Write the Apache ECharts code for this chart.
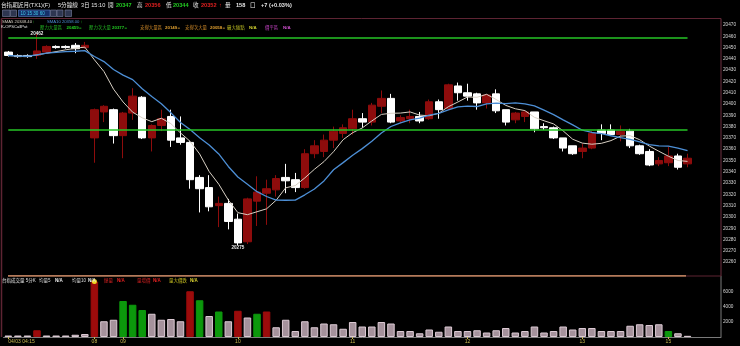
<!DOCTYPE html>
<html><head><meta charset="utf-8">
<script src="https://cdn.jsdelivr.net/npm/echarts@6/dist/echarts.min.js"></script>
<style>html,body{margin:0;padding:0;background:#000;}#c{width:740px;height:346px;}</style>
</head><body><div id="c"></div>
<script>
// ---- data ----
const categories = ['04:15','04:20','04:25','04:30','04:35','04:40','04:45','04:50','04:55',
'08:45','08:50','08:55',
'09:00','09:05','09:10','09:15','09:20','09:25','09:30','09:35','09:40','09:45','09:50','09:55',
'10:00','10:05','10:10','10:15','10:20','10:25','10:30','10:35','10:40','10:45','10:50','10:55',
'11:00','11:05','11:10','11:15','11:20','11:25','11:30','11:35','11:40','11:45','11:50','11:55',
'12:00','12:05','12:10','12:15','12:20','12:25','12:30','12:35','12:40','12:45','12:50','12:55',
'13:00','13:05','13:10','13:15','13:20','13:25','13:30','13:35','13:40',
'15:00','15:05','15:10','15:15','15:20','15:25'];

const opens = [20446,20443,20443,20443,20446,20451,20451,20452,20450,
20370,20393,20395,20372,20392,20406,20370,20381,20389,20370,20366,20335,20326,20310,20312,20298,
20278,20314,20321,20324,20335,20333,20326,20356,20358,20368,20374,20378,20387,20384,20398,20405,
20385,20387,20389,20387,20402,20396,20416,20410,20409,20401,20409,20395,20386,20389,20393,20380,
20379,20370,20363,20358,20361,20377,20377,20373,20376,20363,20358,20347,20348,20354,20347];

const closes = [20443,20442,20442,20447,20451,20450,20450,20449,20452,
20395,20398,20372,20392,20407,20370,20381,20387,20368,20366,20333,20325,20309,20312,20296,20277,
20316,20322,20325,20334,20332,20326,20356,20363,20368,20376,20379,20387,20384,20399,20405,20384,
20388,20389,20385,20402,20395,20417,20410,20407,20401,20408,20394,20384,20392,20393,20378,20379,
20370,20361,20356,20361,20374,20374,20373,20376,20363,20356,20346,20350,20354,20344,20352];

const lows = [20442,20441,20441,20440,20445,20449,20449,20445,20449,
20348,20384,20365,20352,20386,20369,20358,20376,20362,20364,20325,20304,20305,20291,20289,20275,
20276,20292,20293,20318,20321,20322,20325,20352,20353,20361,20370,20373,20379,20381,20392,20383,
20383,20383,20383,20386,20387,20395,20403,20403,20395,20396,20392,20381,20383,20384,20375,20377,
20369,20358,20355,20352,20360,20368,20372,20367,20361,20355,20345,20345,20345,20342,20344];

const highs = [20447,20444,20444,20462,20452,20452,20452,20454,20455,
20396,20399,20396,20393,20414,20407,20382,20395,20395,20389,20367,20337,20337,20318,20316,20303,
20317,20336,20333,20337,20347,20339,20360,20368,20373,20380,20382,20395,20392,20401,20412,20409,
20390,20395,20393,20404,20404,20418,20419,20418,20410,20409,20413,20395,20393,20394,20393,20383,
20380,20370,20363,20365,20376,20382,20382,20381,20378,20364,20360,20353,20362,20356,20356];

const volumes = [200,200,200,900,200,200,200,300,400,
7400,2100,2300,4800,4300,3600,3100,2300,2400,2100,6100,4900,2800,3400,2100,3500,
2600,3100,3400,1300,2300,800,2100,1300,1800,1700,1100,2000,1400,1400,2000,1800,
800,800,500,1000,700,1400,800,800,900,600,900,1200,600,800,1400,600,
800,1400,1000,1200,1200,800,800,800,1500,1700,1600,1700,800,500,158];

// volume bar kind: u = red, d = green, n = neutral
const volKind = ('nnnu' + 'nnnnn' + 'u' + 'nn' + 'ddd' + 'nnnn' + 'u' + 'd' + 'n' + 'd' + 'n' + 'u' + 'n' + 'd' + 'u' +
  'nnnnnnnnnnnnnnnnnnnnnnnnnnnnnnnnnnnnnnnnn' + 'd' + 'nn').split('');

const levelValues = [20459, 20377, 20149, 20058];
const tickIdx = [0, 9, 12, 24, 36, 48, 60, 69];
const tickText = ['04/03 04:15', '08', '09', '10', '11', '12', '13', '15'];

// ---- build ----
const candleData = opens.map((o, i) => [o, closes[i], lows[i], highs[i]]);
function sma(arr, n) {
  return arr.map((_, i) => {
    const s = Math.max(0, i - n + 1); let t = 0;
    for (let k = s; k <= i; k++) t += arr[k];
    return +(t / (i - s + 1)).toFixed(2);
  });
}
const ma5 = sma(closes, 5), ma10 = sma(closes, 10);
const lastIdx = opens.length - 1;
const kindColor = { u: '#9c0b0b', d: '#0c980c', n: '#a5929c' };
const kindBorder = { u: '#9c0b0b', d: '#0c980c', n: '#dccad4' };
const volData = volumes.map((v, i) => ({ value: v, itemStyle: { color: kindColor[volKind[i]], borderColor: kindBorder[volKind[i]], borderWidth: 1 } }));
const lo = 20250, hi = 20480;
const levelLines = levelValues.filter(v => v > lo && v < hi).map(v => [{ coord: [0, v] }, { coord: [lastIdx, v] }]);

const FF = '"Liberation Sans","Noto Sans CJK TC",sans-serif';
const G = [];
function T(x, y, text, color, size, bold) {
  G.push({ type: 'text', x: x, y: y, silent: true, z: 20,
    style: { text: text, fill: color, fontSize: size || 5, fontFamily: FF, fontWeight: bold ? 'bold' : 'normal', verticalAlign: 'middle', align: 'left' } });
}
function L(x1, y1, x2, y2, color, w) {
  G.push({ type: 'line', silent: true, z: 15, shape: { x1: x1, y1: y1, x2: x2, y2: y2 }, style: { stroke: color, lineWidth: w || 1 } });
}
function R(x, y, w, h, fill, stroke) {
  G.push({ type: 'rect', silent: true, z: 15, shape: { x: x, y: y, width: w, height: h }, style: { fill: fill, stroke: stroke, lineWidth: 0.6 } });
}
// frames
L(1.5, 18.5, 721, 18.5, '#5e2433', 1);
L(1.5, 18.5, 1.5, 337, '#5e2433', 1.5);
L(721, 18.5, 721, 276, '#6e3040', 1);
L(721, 276, 721, 337, '#7a7a7a', 1);
L(686, 276, 721, 276, '#5e2433', 1);
R(8, 275, 678, 1.8, '#b47a5a', null);
// header row 1
const Y1 = 5.5, S1 = 5.6;
T(1, Y1, '台指期近月(TX1)(F)', '#e6e6e6', S1);
T(58, Y1, '5分鐘線', '#e6e6e6', S1);
T(81, Y1, '3日 15:10', '#e6e6e6', S1);
T(108, Y1, '開', '#e6e6e6', S1);
T(116, Y1, '20347', '#22cc22', S1, true);
T(137, Y1, '高', '#e6e6e6', S1);
T(145, Y1, '20356', '#e02020', S1, true);
T(166, Y1, '低', '#e6e6e6', S1);
T(173, Y1, '20344', '#22cc22', S1, true);
T(193, Y1, '收', '#e6e6e6', S1);
T(201, Y1, '20352', '#e02020', S1, true);
T(219, Y1, '↑', '#e02020', S1, true);
T(225, Y1, '量', '#e6e6e6', S1);
T(236, Y1, '158', '#e6e6e6', S1, true);
T(250, Y1, '口', '#e6e6e6', S1);
T(261, Y1, '+7 (+0.03%)', '#e6e6e6', S1, true);
// toolbar
R(2.5, 10, 7.5, 6.5, '#2e3650', '#7880a0');
R(10.5, 10, 6, 6.5, '#2e3650', '#7880a0');
R(18.5, 10, 31.5, 6.5, '#16306a', '#6080c0');
T(20.5, 13.3, '10 15 30 60', '#40c8e8', 4.6);
R(50.5, 10, 6, 6.5, '#2e3650', '#7880a0');
R(57, 10, 6, 6.5, '#2e3650', '#7880a0');
R(65, 10, 6.5, 6.5, '#2e3650', '#7880a0');
// row 3
T(2, 21.8, 'SMA5 20348.40', '#d8d0c4', 4.2);
T(32.5, 21.8, '↑', '#22cc22', 4.2);
T(47, 21.8, 'SMA10 20358.00', '#4d8fd6', 4.2);
T(80.5, 21.8, '↑', '#22cc22', 4.2);
// row 4
const Y4 = 27.3, S4 = 4.4;
T(1, Y4, 'K-OPSCallPut', '#e6e6e6', 4.2);
T(40, Y4, '壓力大量區', '#22b822', S4);
T(66.5, Y4, '20459', '#22cc22', S4, true);
T(79, Y4, '=', '#22cc22', S4);
T(89, Y4, '壓力次大量', '#22b822', S4);
T(112, Y4, '20377', '#22cc22', S4, true);
T(124.5, Y4, '=', '#22cc22', S4);
T(140, Y4, '支撐大量區', '#d08a28', S4);
T(165, Y4, '20149', '#e0a030', S4, true);
T(177.5, Y4, '=', '#e0a030', S4);
T(185, Y4, '支撐次大量', '#d08a28', S4);
T(210, Y4, '20058', '#e0a030', S4, true);
T(222.5, Y4, '=', '#e0a030', S4);
T(227, Y4, '最大痛點', '#b8b820', S4);
T(249, Y4, 'N/A', '#d0d030', S4, true);
T(265, Y4, '價平區', '#c040c0', S4);
T(283, Y4, 'N/A', '#d050d0', S4, true);
// volume header
const YV = 281, SV = 4.5;
T(2, YV, '台指成交量 5分K', '#e0e0e0', SV);
T(39, YV, '均量5', '#d8d8d8', SV);
T(55, YV, 'N/A', '#e6e6e6', SV, true);
T(72, YV, '均量10', '#d8d8d8', SV);
T(88, YV, 'N/A', '#e6e6e6', SV, true);
T(104, YV, '爆量', '#d02020', SV);
T(117, YV, 'N/A', '#e02020', SV, true);
T(137, YV, '量增價', '#d02020', SV);
T(153, YV, 'N/A', '#e02020', SV, true);
T(169, YV, '量大價跌', '#c8c020', SV);
T(190, YV, 'N/A', '#d8d030', SV, true);

const chart = echarts.init(document.getElementById('c'), null, { renderer: 'canvas', width: 740, height: 346 });
const labelStyle = { color: '#d6d6d6', fontSize: 4.7, fontFamily: FF, margin: 2 };
chart.setOption({
  backgroundColor: '#000000',
  animation: false,
  textStyle: { fontFamily: FF },
  graphic: G,
  grid: [
    { left: 3.5, width: 717.5, top: 13.7, height: 259.7 },
    { left: 3.5, width: 717.5, top: 280.75, height: 56.25 }
  ],
  xAxis: [
    { type: 'category', gridIndex: 0, data: categories, boundaryGap: true,
      axisLine: { show: false }, axisTick: { show: false }, axisLabel: { show: false }, splitLine: { show: false } },
    { type: 'category', gridIndex: 1, data: categories, boundaryGap: true,
      axisLine: { show: true, lineStyle: { color: '#7a7a7a', width: 1 } },
      axisTick: { show: true, alignWithLabel: true, length: 2, interval: (i) => tickIdx.includes(i), lineStyle: { color: '#c8b850' } },
      axisLabel: { show: true, interval: (i) => tickIdx.includes(i), color: '#c8b850', fontSize: 5, margin: 2.5, fontFamily: FF,
        alignMinLabel: 'left',
        formatter: (v, i) => { const k = tickIdx.indexOf(i); return k >= 0 ? tickText[k] : ''; } },
      splitLine: { show: false } }
  ],
  yAxis: [
    { type: 'value', gridIndex: 0, position: 'right', min: lo, max: hi, interval: 10,
      axisLine: { show: false }, axisTick: { show: false }, splitLine: { show: false },
      axisLabel: Object.assign({ showMinLabel: false, showMaxLabel: false, formatter: (v) => String(v) }, labelStyle) },
    { type: 'value', gridIndex: 1, position: 'right', min: 0, max: 7500, interval: 2000,
      axisLine: { show: false }, axisTick: { show: false }, splitLine: { show: false },
      axisLabel: Object.assign({ showMinLabel: false, showMaxLabel: false,
        formatter: (v) => (v > 0 && v < 7500 ? String(v) : '') }, labelStyle) }
  ],
  series: [
    { type: 'candlestick', xAxisIndex: 0, yAxisIndex: 0, data: candleData, barWidth: 8, z: 2,
      itemStyle: { color: '#8e0c0c', color0: '#ffffff', borderColor: '#8e0c0c', borderColor0: '#ffffff', borderWidth: 1 },
      markPoint: {
        symbol: 'circle', symbolSize: 0.1, silent: true,
        itemStyle: { color: 'rgba(0,0,0,0)' },
        data: [
          { type: 'max', valueDim: 'highest', label: { show: true, position: 'top', distance: 0, offset: [0, 2], color: '#e8e8e8', fontSize: 4.6, fontWeight: 'bold', fontFamily: FF, formatter: (p) => String(p.value) } },
          { type: 'min', valueDim: 'lowest', label: { show: true, position: 'bottom', distance: 0, color: '#e8e8e8', fontSize: 4.6, fontWeight: 'bold', fontFamily: FF, formatter: (p) => String(p.value) } }
        ]
      }
    },
    { type: 'line', name: 'SMA5', xAxisIndex: 0, yAxisIndex: 0, data: ma5, symbol: 'none', z: 3,
      lineStyle: { color: '#d8d0c4', width: 1 } },
    { type: 'line', name: 'SMA10', xAxisIndex: 0, yAxisIndex: 0, data: ma10, symbol: 'none', z: 4,
      lineStyle: { color: '#4d8fd6', width: 1.3 },
      markLine: { silent: true, symbol: 'none', label: { show: false },
        lineStyle: { color: '#26c426', width: 1.5, type: 'solid' }, data: levelLines } },
    { type: 'bar', xAxisIndex: 1, yAxisIndex: 1, data: volData, barWidth: 7.5, z: 2,
      markPoint: { silent: true, symbol: 'circle', symbolSize: 5, itemStyle: { color: '#f0d820' }, label: { show: false },
        data: [{ type: 'max' }] } }
  ]
});
</script></body></html>
